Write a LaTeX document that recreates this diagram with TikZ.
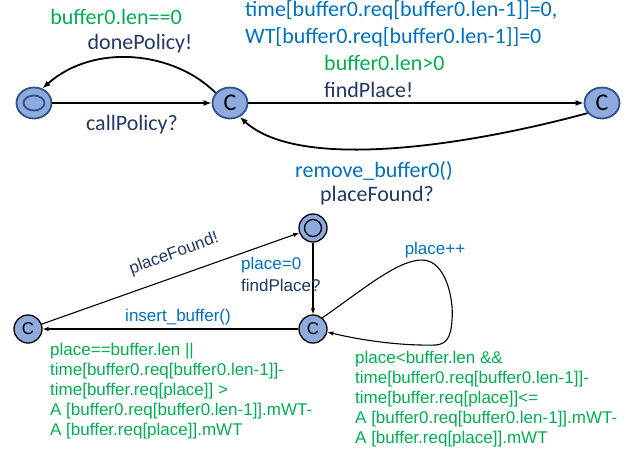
\documentclass[tikz,border=0pt]{standalone}
\usepackage{fontspec}
\setmainfont{Carlito}
\newfontfamily\arialfont{Liberation Sans}
\usetikzlibrary{arrows.meta,positioning,shapes.geometric}
\definecolor{grd}{HTML}{00B050}
\definecolor{upd}{HTML}{0070C0}
\definecolor{syn}{HTML}{1F3864}
\definecolor{locfill}{HTML}{8FAADC}
\definecolor{locdraw}{HTML}{2F528F}

\begin{document}
\begin{tikzpicture}[
    x=1pt, y=-1pt,
    bigloc/.style={ellipse, draw=locdraw, fill=locfill, line width=1.8pt, minimum width=35pt, minimum height=31pt, inner sep=0pt, font=\fontsize{24}{26}\selectfont},
    bigring/.style={ellipse, draw=locdraw, line width=1.8pt, minimum width=21pt, minimum height=15pt, inner sep=0pt},
    smallloc/.style={circle, draw=black, fill=locfill, line width=1.3pt, minimum size=28pt, inner sep=0pt, font=\arialfont\fontsize{17}{18}\selectfont},
    smallring/.style={circle, draw=black, line width=1.3pt, minimum size=17pt, inner sep=0pt},
    toplbl/.style={inner sep=0pt, font=\fontsize{22}{27}\selectfont, align=left},
    botlbl/.style={inner sep=0pt, font=\arialfont\fontsize{17}{20}\selectfont, align=left},
    toparr/.style={-{Latex[length=8pt,width=6pt]}, line width=1.8pt},
    botarr/.style={-{Latex[length=6pt,width=4.5pt]}, line width=1.1pt}
]
    \useasboundingbox (0,0) rectangle (639,455);

    % top automaton
    \node[bigloc] (idle) at (34,103) {};
    \node[bigring] at (idle) {};
    \node[bigloc] (call) at (230,103) {C};
    \node[bigloc] (find) at (602,103) {C};

    \draw[toparr] (idle) -- (call);
    \draw[toparr] (call) -- (find);
    \draw[toparr] (call.145) .. controls (175,52) and (95,42) .. (idle.60);
    \draw[toparr] (find.215) .. controls (470,145) and (300,172) .. (call.-55);

    \node[toplbl, text=grd] (g1) at (116,17) {buffer0.len==0};
    \node[toplbl, text=syn] (s1) at (140,44) {donePolicy!};
    \node[toplbl, text=syn] (s2) at (132,125) {callPolicy?};
    \node[toplbl, text=upd, anchor=west] (u1) at (245,10) {time[buffer0.req[buffer0.len-1]]=0,};
    \node[toplbl, text=upd, anchor=west] (u2) at (245,37) {WT[buffer0.req[buffer0.len-1]]=0};
    \node[toplbl, text=grd, anchor=west] (g2) at (324,63) {buffer0.len>0};
    \node[toplbl, text=syn, anchor=west] (s3) at (324,90) {findPlace!};
    \node[toplbl, text=upd] (u3) at (374,171) {remove\_buffer0()};
    \node[toplbl, text=syn] (s4) at (377,196) {placeFound?};

    % bottom automaton
    \node[smallloc] (wait) at (313,228) {};
    \node[smallring] at (wait) {};
    \node[smallloc] (scan) at (313,329) {C};
    \node[smallloc] (ins) at (28,329) {C};

    \draw[botarr] (wait) -- (scan);
    \draw[botarr] (scan) -- (ins);
    \draw[botarr] (ins) -- (wait);
    \draw[botarr] (scan.50) .. controls (365,288) and (398,260) .. (422,260)
        .. controls (446,260) and (454,300) .. (452,320)
        .. controls (451,338) and (446,344) .. (436,345)
        .. controls (400,346) and (360,340) .. (scan.-12);

    \node[botlbl, text=syn, rotate=20] (s5) at (174,254) {placeFound!};
    \node[botlbl, text=upd, anchor=west] (u4) at (241,265) {place=0};
    \node[botlbl, text=syn, anchor=west] (s6) at (241,285) {findPlace?};
    \node[botlbl, text=upd] (u5) at (435,250) {place++};
    \node[botlbl, text=upd] (u6) at (178,317) {insert\_buffer()};
    \node[botlbl, text=grd, anchor=north west] (g3) at (50,343) {place==buffer.len ||\\time[buffer0.req[buffer0.len-1]]-\\time[buffer.req[place]] >\\A [buffer0.req[buffer0.len-1]].mWT-\\A [buffer.req[place]].mWT};
    \node[botlbl, text=grd, anchor=north west] (g4) at (355,351) {place<buffer.len \&\&\\time[buffer0.req[buffer0.len-1]]-\\time[buffer.req[place]]<=\\A [buffer0.req[buffer0.len-1]].mWT-\\A [buffer.req[place]].mWT};
\end{tikzpicture}
\end{document}
